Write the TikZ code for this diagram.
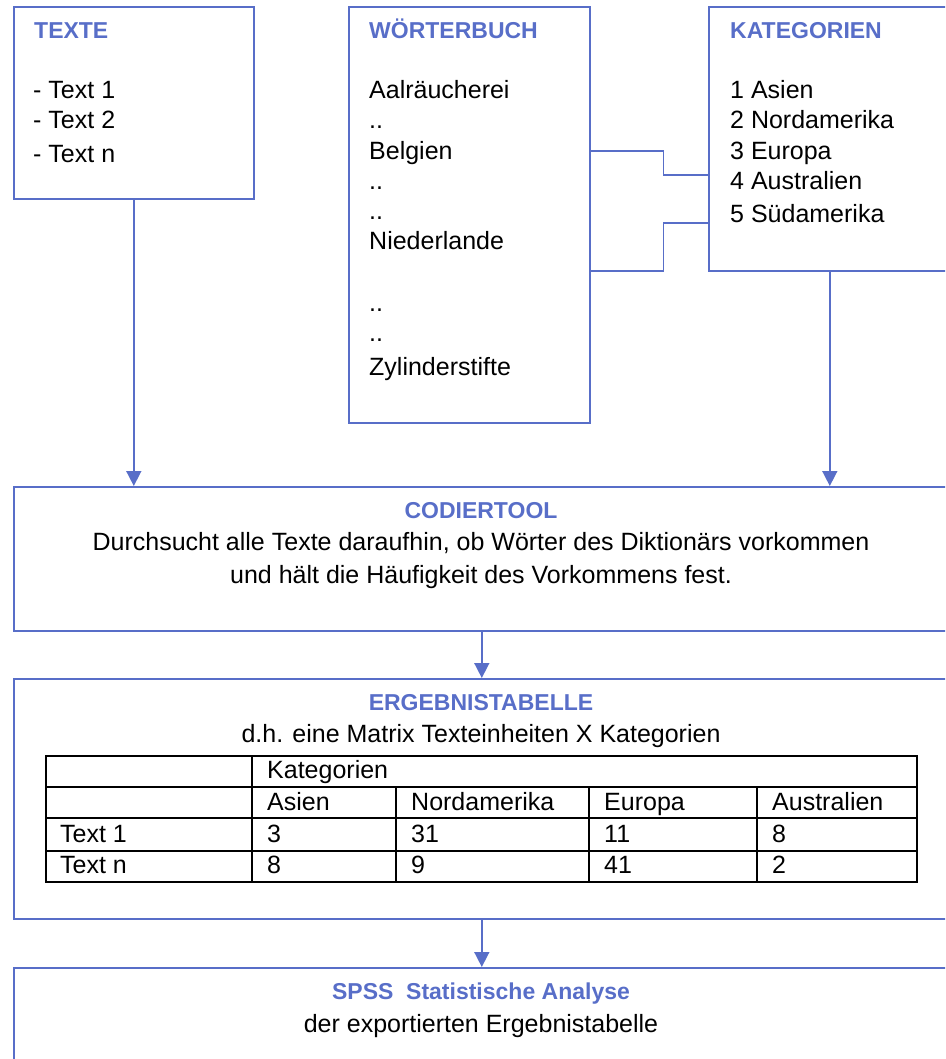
\documentclass[tikz,border=0pt]{standalone}
\usepackage{fontspec}
\setmainfont{Liberation Sans}
\usetikzlibrary{arrows.meta}
\definecolor{accent}{RGB}{88,110,200}
\begin{document}
\begin{tikzpicture}[x=1pt,y=1pt,
  box/.style={draw=accent, line width=1.6pt, inner sep=0pt, anchor=north west},
  conn/.style={draw=accent, line width=1.6pt},
  arr/.style={conn, -{Triangle[length=15pt,width=15pt]}},
  title/.style={text=accent, font=\fontsize{23}{27}\selectfont\bfseries, inner sep=0pt, anchor=base west},
  ctitle/.style={title, anchor=base},
  txt/.style={font=\fontsize{25}{29}\selectfont, inner sep=0pt, anchor=base west},
  ctxt/.style={txt, anchor=base},
  grid/.style={draw=black, line width=1.5pt}]
\useasboundingbox (0,0) rectangle (945,-1059);
\clip (0,0) rectangle (945,-1059);

% boxes
\node[box, minimum width=240pt, minimum height=192pt] (texte) at (13,-6) {};
\node[box, minimum width=241pt, minimum height=416pt] (wb) at (348,-6) {};
\node[box, minimum width=242pt, minimum height=264pt] (kat) at (708,-6) {};
\node[box, minimum width=936pt, minimum height=144pt] (cod) at (13,-486) {};
\node[box, minimum width=936pt, minimum height=240pt] (erg) at (13,-678) {};
\node[box, minimum width=936pt, minimum height=120pt] (spss) at (13,-967) {};

% TEXTE
\node[title] (t1) at (34,-39) {TEXTE};
\node[txt] (t1a) at (33,-99) {- Text 1};
\node[txt] (t1b) at (33,-129) {- Text 2};
\node[txt] (t1c) at (33,-162.5) {- Text n};

% WOERTERBUCH
\node[title] (t2) at (369,-39) {WÖRTERBUCH};
\node[txt] (w1) at (369,-99) {Aalräucherei};
\node[txt] (w2) at (369,-129) {..};
\node[txt] (w3) at (369,-160) {Belgien};
\node[txt] (w4) at (369,-190) {..};
\node[txt] (w5) at (369,-220) {..};
\node[txt] (w6) at (369,-250) {Niederlande};
\node[txt] (w7) at (369,-311) {..};
\node[txt] (w8) at (369,-341) {..};
\node[txt] (w9) at (369,-375) {Zylinderstifte};

% KATEGORIEN
\node[title] (t3) at (730,-39) {KATEGORIEN};
\node[txt] (k1) at (730,-99) {1 Asien};
\node[txt] (k2) at (730,-129) {2 Nordamerika};
\node[txt] (k3) at (730,-160) {3 Europa};
\node[txt] (k4) at (730,-190) {4 Australien};
\node[txt] (k5) at (730,-222.5) {5 Südamerika};

% CODIERTOOL
\node[ctitle] (t4) at (481,-518) {CODIERTOOL};
\node[ctxt] (c1) at (481,-550) {Durchsucht alle Texte daraufhin, ob Wörter des Diktionärs vorkommen};
\node[ctxt] (c2) at (481,-583) {und hält die Häufigkeit des Vorkommens fest.};

% ERGEBNISTABELLE
\node[ctitle] (t5) at (481,-710) {ERGEBNISTABELLE};
\node[ctxt] (e1) at (481,-742) {d.h. eine Matrix Texteinheiten X Kategorien};

% table grid
\draw[grid] (46,-756) rectangle (917,-882);
\draw[grid] (46,-787) -- (917,-787);
\draw[grid] (46,-818) -- (917,-818);
\draw[grid] (46,-851) -- (917,-851);
\draw[grid] (252,-756) -- (252,-882);
\draw[grid] (396,-787) -- (396,-882);
\draw[grid] (589,-787) -- (589,-882);
\draw[grid] (757,-787) -- (757,-882);

\node[txt] (h0) at (267,-778) {Kategorien};
\node[txt] (h1) at (267,-810) {Asien};
\node[txt] (h2) at (411,-810) {Nordamerika};
\node[txt] (h3) at (604,-810) {Europa};
\node[txt] (h4) at (772,-810) {Australien};
\node[txt] (r10) at (60,-842) {Text 1};
\node[txt] (r11) at (267,-842) {3};
\node[txt] (r12) at (411,-842) {31};
\node[txt] (r13) at (604,-842) {11};
\node[txt] (r14) at (772,-842) {8};
\node[txt] (r20) at (60,-873) {Text n};
\node[txt] (r21) at (267,-873) {8};
\node[txt] (r22) at (411,-873) {9};
\node[txt] (r23) at (604,-873) {41};
\node[txt] (r24) at (772,-873) {2};

% SPSS
\node[ctitle] (t6) at (481,-999) {SPSS\ \ Statistische Analyse};
\node[ctxt] (s1) at (481,-1032) {der exportierten Ergebnistabelle};

% connectors
\draw[arr] (texte.south) -- (texte.south |- cod.north);
\draw[arr] (kat.south) -- (kat.south |- cod.north);
\draw[arr] (cod.south) -- (erg.north);
\draw[arr] (erg.south) -- (spss.north);
\draw[conn] ([yshift=64pt]wb.east) -- ++(73,0) |- ([yshift=-36pt]kat.west);
\draw[conn] ([yshift=-56pt]wb.east) -- ++(73,0) |- ([yshift=-84pt]kat.west);
\end{tikzpicture}
\end{document}
